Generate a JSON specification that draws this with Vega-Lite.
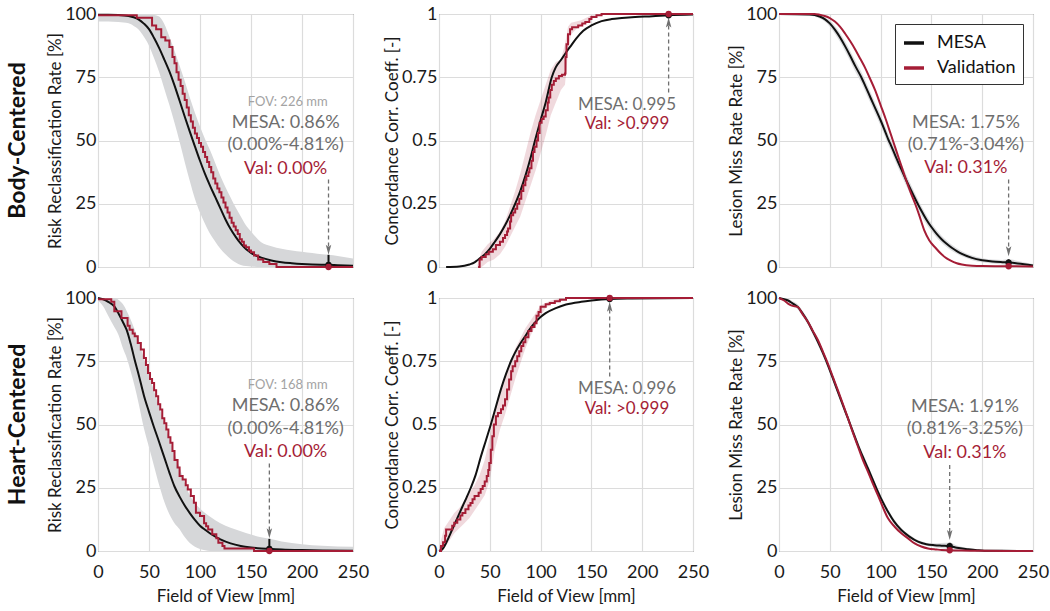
{
"$schema": "https://vega.github.io/schema/vega-lite/v6.json",
"padding": {"left": 6, "top": 4, "right": 0, "bottom": 2},
"background": "white",
"config": {
  "font": "Lato",
  "view": {"stroke": "#404040", "strokeWidth": 1},
  "axis": {"domain": false, "ticks": false, "grid": true, "gridColor": "#dcdcdc", "gridWidth": 1.2, "labelFontSize": 18, "labelColor": "#1a1a1a", "labelPadding": 2, "labelFlush": false, "titleFontSize": 17, "titleFontWeight": "normal", "titleColor": "#1a1a1a", "titlePadding": 0}
},
"datasets": {
  "rrB_mesa": [
    {"fov":0,"rate":99.7,"lo":97,"hi":99.8},{"fov":10,"rate":99.7,"lo":97,"hi":99.8},{"fov":20,"rate":99.6,"lo":96.8,"hi":99.8},{"fov":30,"rate":99.2,"lo":96.3,"hi":99.8},{"fov":35,"rate":98.7,"lo":95.3,"hi":99.8},{"fov":40,"rate":97.8,"lo":93.8,"hi":99.8},{"fov":45,"rate":96.2,"lo":91,"hi":99.8},{"fov":50,"rate":94,"lo":87.5,"hi":99.8},{"fov":55,"rate":90.5,"lo":82.5,"hi":99.6},{"fov":60,"rate":86.5,"lo":77,"hi":99},{"fov":65,"rate":82,"lo":70.5,"hi":96},{"fov":70,"rate":77.3,"lo":64,"hi":91},{"fov":75,"rate":71.8,"lo":57,"hi":85.5},{"fov":80,"rate":65.7,"lo":49.5,"hi":79.5},{"fov":85,"rate":59.5,"lo":41.5,"hi":73.5},{"fov":90,"rate":53.5,"lo":34,"hi":67},{"fov":95,"rate":47.7,"lo":27,"hi":61},{"fov":100,"rate":42,"lo":21.5,"hi":55.5},{"fov":105,"rate":36.7,"lo":17,"hi":50.5},{"fov":110,"rate":32,"lo":13,"hi":46},{"fov":115,"rate":27.6,"lo":10,"hi":41},{"fov":120,"rate":23.2,"lo":7.2,"hi":36},{"fov":125,"rate":18.8,"lo":5,"hi":31.5},{"fov":130,"rate":15,"lo":3.2,"hi":27.5},{"fov":135,"rate":11.9,"lo":1.8,"hi":23.5},{"fov":140,"rate":9.2,"lo":0.8,"hi":20},{"fov":145,"rate":7.1,"lo":0.4,"hi":16.5},{"fov":150,"rate":5.6,"lo":0.2,"hi":14},{"fov":160,"rate":3.7,"lo":0,"hi":9.8},{"fov":170,"rate":2.6,"lo":0,"hi":8.2},{"fov":180,"rate":1.9,"lo":0,"hi":7.2},{"fov":190,"rate":1.5,"lo":0,"hi":6.5},{"fov":200,"rate":1.2,"lo":0,"hi":6},{"fov":210,"rate":1,"lo":0,"hi":5.5},{"fov":220,"rate":0.9,"lo":0,"hi":5},{"fov":226,"rate":0.86,"lo":0,"hi":4.81},{"fov":235,"rate":0.7,"lo":0,"hi":4.3},{"fov":250,"rate":0.5,"lo":0,"hi":3.4}
  ],
  "rrB_val": [
    {"fov":0,"rate":99.5},{"fov":38,"rate":98.5},{"fov":53,"rate":95.5},{"fov":57,"rate":94},{"fov":62,"rate":90.8},{"fov":66,"rate":89.5},{"fov":70,"rate":87},{"fov":73,"rate":83},{"fov":75,"rate":80.5},{"fov":77,"rate":77},{"fov":79,"rate":74},{"fov":81,"rate":71.5},{"fov":83,"rate":68.5},{"fov":85,"rate":66},{"fov":87,"rate":63},{"fov":89,"rate":60},{"fov":91,"rate":57.5},{"fov":93,"rate":55},{"fov":95,"rate":52.8},{"fov":97,"rate":51},{"fov":99,"rate":49},{"fov":101,"rate":47.5},{"fov":103,"rate":45.5},{"fov":105,"rate":43.5},{"fov":107,"rate":41.5},{"fov":109,"rate":39.5},{"fov":111,"rate":37.5},{"fov":113,"rate":35},{"fov":115,"rate":33},{"fov":117,"rate":31},{"fov":119,"rate":29.5},{"fov":121,"rate":27.5},{"fov":123,"rate":25.5},{"fov":125,"rate":23.5},{"fov":127,"rate":21.5},{"fov":129,"rate":19.5},{"fov":131,"rate":17.5},{"fov":133,"rate":16},{"fov":135,"rate":14.5},{"fov":137,"rate":13},{"fov":139,"rate":11},{"fov":141,"rate":10},{"fov":143,"rate":8.5},{"fov":145,"rate":7.8},{"fov":148,"rate":6.5},{"fov":150,"rate":5.8},{"fov":153,"rate":4.5},{"fov":157,"rate":3},{"fov":162,"rate":2},{"fov":168,"rate":1.2},{"fov":175,"rate":0},{"fov":250,"rate":0}
  ],
  "cccB_mesa": [
    {"fov":7,"ccc":0},{"fov":20,"ccc":0.002},{"fov":30,"ccc":0.01},{"fov":35,"ccc":0.018},{"fov":38.5,"ccc":0.029},{"fov":45,"ccc":0.05},{"fov":50,"ccc":0.072},{"fov":55,"ccc":0.1},{"fov":60,"ccc":0.13},{"fov":65,"ccc":0.165},{"fov":70,"ccc":0.205},{"fov":75,"ccc":0.25},{"fov":80,"ccc":0.3},{"fov":85,"ccc":0.36},{"fov":90,"ccc":0.43},{"fov":94.5,"ccc":0.5},{"fov":100,"ccc":0.58},{"fov":105,"ccc":0.65},{"fov":111,"ccc":0.75},{"fov":115,"ccc":0.79},{"fov":120,"ccc":0.818},{"fov":125,"ccc":0.848},{"fov":129,"ccc":0.87},{"fov":135,"ccc":0.903},{"fov":142,"ccc":0.934},{"fov":150,"ccc":0.955},{"fov":160,"ccc":0.972},{"fov":170,"ccc":0.98},{"fov":180,"ccc":0.984},{"fov":193,"ccc":0.988},{"fov":210,"ccc":0.991},{"fov":226,"ccc":0.995},{"fov":250,"ccc":0.998}
  ],
  "cccB_val": [
    {"fov":38.5,"ccc":0},{"fov":40,"ccc":0.03},{"fov":42,"ccc":0.04},{"fov":46,"ccc":0.05},{"fov":49,"ccc":0.06},{"fov":53,"ccc":0.07},{"fov":56,"ccc":0.087},{"fov":60,"ccc":0.1},{"fov":63,"ccc":0.115},{"fov":65,"ccc":0.126},{"fov":67,"ccc":0.14},{"fov":68,"ccc":0.152},{"fov":70,"ccc":0.18},{"fov":71,"ccc":0.205},{"fov":73,"ccc":0.215},{"fov":75,"ccc":0.23},{"fov":77,"ccc":0.25},{"fov":79,"ccc":0.27},{"fov":81,"ccc":0.3},{"fov":83,"ccc":0.323},{"fov":85,"ccc":0.345},{"fov":86,"ccc":0.36},{"fov":88,"ccc":0.375},{"fov":89,"ccc":0.39},{"fov":91,"ccc":0.42},{"fov":92.5,"ccc":0.455},{"fov":94,"ccc":0.475},{"fov":96,"ccc":0.5},{"fov":97.5,"ccc":0.53},{"fov":99,"ccc":0.57},{"fov":101,"ccc":0.585},{"fov":103,"ccc":0.595},{"fov":105,"ccc":0.62},{"fov":107,"ccc":0.65},{"fov":108,"ccc":0.67},{"fov":109.5,"ccc":0.7},{"fov":111,"ccc":0.72},{"fov":113,"ccc":0.735},{"fov":115,"ccc":0.745},{"fov":118,"ccc":0.755},{"fov":121,"ccc":0.76},{"fov":124,"ccc":0.765},{"fov":124.5,"ccc":0.83},{"fov":125.5,"ccc":0.88},{"fov":127,"ccc":0.92},{"fov":129,"ccc":0.94},{"fov":131,"ccc":0.948},{"fov":137,"ccc":0.955},{"fov":141,"ccc":0.962},{"fov":144,"ccc":0.968},{"fov":148,"ccc":0.98},{"fov":150,"ccc":0.988},{"fov":155,"ccc":0.995},{"fov":160,"ccc":1},{"fov":250,"ccc":1}
  ],
  "cccB_band": [
    {"fov":38,"lo":0,"hi":0.01},{"fov":42,"lo":0,"hi":0.06},{"fov":48,"lo":0.02,"hi":0.09},{"fov":54,"lo":0.03,"hi":0.11},{"fov":60,"lo":0.05,"hi":0.14},{"fov":65,"lo":0.08,"hi":0.18},{"fov":70,"lo":0.12,"hi":0.24},{"fov":75,"lo":0.16,"hi":0.3},{"fov":80,"lo":0.2,"hi":0.37},{"fov":85,"lo":0.26,"hi":0.45},{"fov":90,"lo":0.32,"hi":0.53},{"fov":95,"lo":0.38,"hi":0.6},{"fov":100,"lo":0.45,"hi":0.66},{"fov":105,"lo":0.52,"hi":0.72},{"fov":110,"lo":0.6,"hi":0.78},{"fov":115,"lo":0.65,"hi":0.81},{"fov":120,"lo":0.7,"hi":0.82},{"fov":124,"lo":0.72,"hi":0.88},{"fov":127,"lo":0.85,"hi":0.95},{"fov":130,"lo":0.92,"hi":0.965},{"fov":135,"lo":0.94,"hi":0.97},{"fov":140,"lo":0.955,"hi":0.975},{"fov":150,"lo":0.98,"hi":0.995},{"fov":160,"lo":1,"hi":1}
  ],
  "lmB_mesa": [
    {"fov":0,"rate":100,"lo":99.6,"hi":100},{"fov":30,"rate":99.8,"lo":99.3,"hi":100},{"fov":40,"rate":99,"lo":98.2,"hi":99.6},{"fov":45,"rate":98,"lo":97,"hi":98.8},{"fov":50,"rate":96.3,"lo":95,"hi":97.5},{"fov":55,"rate":93.8,"lo":92.2,"hi":95.3},{"fov":60,"rate":90.8,"lo":89,"hi":92.5},{"fov":65,"rate":87.3,"lo":85.3,"hi":89.2},{"fov":70,"rate":83.5,"lo":81.4,"hi":85.5},{"fov":75,"rate":79.5,"lo":77.3,"hi":81.6},{"fov":81,"rate":75,"lo":72.8,"hi":77.2},{"fov":85,"rate":71.5,"lo":69.3,"hi":73.7},{"fov":90,"rate":67,"lo":64.8,"hi":69.2},{"fov":95,"rate":62.5,"lo":60.3,"hi":64.7},{"fov":100,"rate":58,"lo":55.8,"hi":60.2},{"fov":105,"rate":53,"lo":50.8,"hi":55.2},{"fov":108,"rate":50,"lo":47.8,"hi":52.2},{"fov":110,"rate":48.3,"lo":46.1,"hi":50.5},{"fov":115,"rate":43.5,"lo":41.3,"hi":45.7},{"fov":120,"rate":39,"lo":36.8,"hi":41.2},{"fov":125,"rate":34.5,"lo":32.3,"hi":36.7},{"fov":130,"rate":30.3,"lo":28.2,"hi":32.4},{"fov":136.5,"rate":25,"lo":23,"hi":27},{"fov":140,"rate":22.3,"lo":20.4,"hi":24.2},{"fov":145,"rate":18.8,"lo":17,"hi":20.6},{"fov":150,"rate":15.8,"lo":14.2,"hi":17.4},{"fov":155,"rate":13.2,"lo":11.7,"hi":14.7},{"fov":160,"rate":11,"lo":9.6,"hi":12.4},{"fov":165,"rate":9.2,"lo":7.9,"hi":10.5},{"fov":170,"rate":7.6,"lo":6.4,"hi":8.8},{"fov":175,"rate":6.3,"lo":5.2,"hi":7.4},{"fov":180,"rate":5.2,"lo":4.2,"hi":6.2},{"fov":190,"rate":3.6,"lo":2.7,"hi":4.5},{"fov":200,"rate":2.7,"lo":1.9,"hi":3.5},{"fov":210,"rate":2.2,"lo":1.4,"hi":3},{"fov":220,"rate":1.9,"lo":1,"hi":2.8},{"fov":226,"rate":1.75,"lo":0.71,"hi":3.04},{"fov":235,"rate":1.4,"lo":0.6,"hi":2.4},{"fov":250,"rate":0.6,"lo":0.2,"hi":1.2}
  ],
  "lmB_val": [
    {"fov":0,"rate":100},{"fov":35,"rate":100},{"fov":40,"rate":99.7},{"fov":45,"rate":99.2},{"fov":50,"rate":98.4},{"fov":55,"rate":97},{"fov":60,"rate":95},{"fov":65,"rate":92.3},{"fov":70,"rate":89.3},{"fov":75,"rate":86},{"fov":80,"rate":82.3},{"fov":85,"rate":78.5},{"fov":89,"rate":75},{"fov":95,"rate":69.5},{"fov":100,"rate":64},{"fov":105,"rate":58.5},{"fov":110,"rate":52.5},{"fov":115,"rate":46.5},{"fov":120,"rate":40.5},{"fov":125,"rate":34.5},{"fov":130,"rate":29},{"fov":134,"rate":25},{"fov":138,"rate":20.5},{"fov":143,"rate":14.5},{"fov":148,"rate":10.5},{"fov":154,"rate":7.6},{"fov":160,"rate":5},{"fov":165,"rate":3.4},{"fov":169,"rate":2.5},{"fov":175,"rate":1.5},{"fov":180,"rate":1},{"fov":190,"rate":0.5},{"fov":200,"rate":0.35},{"fov":226,"rate":0.31},{"fov":250,"rate":0.2}
  ],
  "rrH_mesa": [
    {"fov":0,"rate":100,"lo":99,"hi":100},{"fov":5,"rate":99.5,"lo":96.7,"hi":100},{"fov":10,"rate":98.5,"lo":93,"hi":100},{"fov":16,"rate":96.7,"lo":88.5,"hi":100},{"fov":20,"rate":94,"lo":85.5,"hi":99.3},{"fov":25,"rate":90,"lo":79.5,"hi":97.2},{"fov":28,"rate":87.5,"lo":76.5,"hi":95},{"fov":32,"rate":82,"lo":71,"hi":91.5},{"fov":36,"rate":75.5,"lo":65,"hi":87.5},{"fov":40,"rate":69.5,"lo":58,"hi":83},{"fov":45,"rate":61.5,"lo":48.5,"hi":76},{"fov":50,"rate":55,"lo":41,"hi":70},{"fov":54,"rate":50,"lo":35,"hi":64.5},{"fov":60,"rate":43,"lo":26,"hi":57},{"fov":65,"rate":37,"lo":19.5,"hi":50.5},{"fov":70,"rate":31,"lo":14.5,"hi":44.5},{"fov":75,"rate":25.5,"lo":11,"hi":38.5},{"fov":80,"rate":21.5,"lo":8.6,"hi":33},{"fov":85,"rate":18,"lo":5.5,"hi":27},{"fov":90,"rate":15,"lo":3.2,"hi":22},{"fov":95,"rate":12.3,"lo":1.7,"hi":19},{"fov":100,"rate":10,"lo":0.8,"hi":16.8},{"fov":105,"rate":8.4,"lo":0.3,"hi":15},{"fov":110,"rate":6.9,"lo":0,"hi":13.5},{"fov":120,"rate":4.6,"lo":0,"hi":11},{"fov":130,"rate":3,"lo":0,"hi":9.2},{"fov":140,"rate":2,"lo":0,"hi":7.8},{"fov":150,"rate":1.4,"lo":0,"hi":6.5},{"fov":160,"rate":1,"lo":0,"hi":5.4},{"fov":168,"rate":0.86,"lo":0,"hi":4.81},{"fov":180,"rate":0.6,"lo":0,"hi":3.8},{"fov":200,"rate":0.35,"lo":0,"hi":2.7},{"fov":220,"rate":0.2,"lo":0,"hi":2.1},{"fov":250,"rate":0.1,"lo":0,"hi":1.7}
  ],
  "rrH_val": [
    {"fov":0,"rate":99.5},{"fov":13,"rate":98.5},{"fov":16,"rate":94.8},{"fov":23,"rate":92.1},{"fov":29,"rate":89},{"fov":31,"rate":87.5},{"fov":34,"rate":86},{"fov":36,"rate":84.9},{"fov":39,"rate":82.2},{"fov":42,"rate":79.6},{"fov":45,"rate":76.3},{"fov":47,"rate":73.5},{"fov":49,"rate":70.4},{"fov":51,"rate":68},{"fov":53,"rate":66.4},{"fov":55,"rate":63.5},{"fov":57,"rate":61.2},{"fov":59,"rate":58},{"fov":61,"rate":55.9},{"fov":63,"rate":52.5},{"fov":65,"rate":50.5},{"fov":67,"rate":48},{"fov":69,"rate":45},{"fov":71,"rate":42.8},{"fov":73,"rate":39.5},{"fov":75,"rate":36},{"fov":78,"rate":33},{"fov":80,"rate":29.6},{"fov":83,"rate":28.3},{"fov":86,"rate":26},{"fov":88,"rate":24.3},{"fov":91,"rate":21.7},{"fov":94,"rate":19.1},{"fov":96,"rate":15.1},{"fov":100,"rate":13.8},{"fov":104,"rate":11},{"fov":106,"rate":9.8},{"fov":108,"rate":8.5},{"fov":112,"rate":6.6},{"fov":116,"rate":5},{"fov":118,"rate":3.3},{"fov":122,"rate":2},{"fov":124,"rate":1},{"fov":153,"rate":0},{"fov":250,"rate":0}
  ],
  "cccH_mesa": [
    {"fov":0,"ccc":0},{"fov":3.3,"ccc":0.007},{"fov":8,"ccc":0.04},{"fov":13,"ccc":0.085},{"fov":18,"ccc":0.13},{"fov":23,"ccc":0.175},{"fov":27,"ccc":0.21},{"fov":31.3,"ccc":0.25},{"fov":36,"ccc":0.3},{"fov":41,"ccc":0.37},{"fov":46,"ccc":0.435},{"fov":51,"ccc":0.5},{"fov":56,"ccc":0.57},{"fov":61,"ccc":0.64},{"fov":66,"ccc":0.7},{"fov":70.8,"ccc":0.75},{"fov":75,"ccc":0.785},{"fov":80,"ccc":0.82},{"fov":85,"ccc":0.85},{"fov":89,"ccc":0.875},{"fov":95,"ccc":0.905},{"fov":100,"ccc":0.925},{"fov":105,"ccc":0.94},{"fov":115,"ccc":0.96},{"fov":125,"ccc":0.974},{"fov":140,"ccc":0.985},{"fov":150,"ccc":0.99},{"fov":168,"ccc":0.996},{"fov":190,"ccc":0.998},{"fov":250,"ccc":1}
  ],
  "cccH_val": [
    {"fov":0,"ccc":0},{"fov":2,"ccc":0.02},{"fov":4,"ccc":0.035},{"fov":6,"ccc":0.06},{"fov":7,"ccc":0.085},{"fov":11,"ccc":0.085},{"fov":13,"ccc":0.1},{"fov":15,"ccc":0.112},{"fov":18,"ccc":0.125},{"fov":21,"ccc":0.14},{"fov":23,"ccc":0.15},{"fov":26,"ccc":0.165},{"fov":29,"ccc":0.18},{"fov":31,"ccc":0.19},{"fov":33,"ccc":0.205},{"fov":35,"ccc":0.217},{"fov":39,"ccc":0.23},{"fov":41,"ccc":0.245},{"fov":43,"ccc":0.257},{"fov":45,"ccc":0.275},{"fov":47,"ccc":0.296},{"fov":48.5,"ccc":0.32},{"fov":49.5,"ccc":0.348},{"fov":51,"ccc":0.4},{"fov":52.5,"ccc":0.454},{"fov":54,"ccc":0.5},{"fov":56,"ccc":0.533},{"fov":58,"ccc":0.545},{"fov":61,"ccc":0.56},{"fov":63,"ccc":0.575},{"fov":65,"ccc":0.6},{"fov":67,"ccc":0.638},{"fov":69,"ccc":0.678},{"fov":71,"ccc":0.71},{"fov":72.5,"ccc":0.73},{"fov":75,"ccc":0.75},{"fov":77,"ccc":0.77},{"fov":79,"ccc":0.79},{"fov":81,"ccc":0.81},{"fov":83,"ccc":0.825},{"fov":85,"ccc":0.845},{"fov":88,"ccc":0.87},{"fov":91,"ccc":0.885},{"fov":94,"ccc":0.9},{"fov":96,"ccc":0.93},{"fov":98,"ccc":0.945},{"fov":100,"ccc":0.965},{"fov":105,"ccc":0.975},{"fov":109,"ccc":0.98},{"fov":114,"ccc":0.987},{"fov":119,"ccc":0.993},{"fov":125,"ccc":1},{"fov":250,"ccc":1}
  ],
  "cccH_band": [
    {"fov":0,"lo":0,"hi":0.01},{"fov":5,"lo":0.01,"hi":0.09},{"fov":10,"lo":0.04,"hi":0.12},{"fov":15,"lo":0.07,"hi":0.15},{"fov":20,"lo":0.09,"hi":0.17},{"fov":25,"lo":0.11,"hi":0.2},{"fov":30,"lo":0.13,"hi":0.23},{"fov":35,"lo":0.16,"hi":0.26},{"fov":40,"lo":0.19,"hi":0.3},{"fov":45,"lo":0.22,"hi":0.36},{"fov":50,"lo":0.28,"hi":0.45},{"fov":55,"lo":0.4,"hi":0.56},{"fov":60,"lo":0.48,"hi":0.62},{"fov":65,"lo":0.54,"hi":0.68},{"fov":70,"lo":0.61,"hi":0.75},{"fov":75,"lo":0.68,"hi":0.8},{"fov":80,"lo":0.74,"hi":0.84},{"fov":85,"lo":0.8,"hi":0.88},{"fov":90,"lo":0.85,"hi":0.91},{"fov":95,"lo":0.89,"hi":0.94},{"fov":100,"lo":0.93,"hi":0.97},{"fov":105,"lo":0.96,"hi":0.98},{"fov":110,"lo":0.975,"hi":0.99},{"fov":120,"lo":0.99,"hi":1},{"fov":125,"lo":1,"hi":1}
  ],
  "lmH_mesa": [
    {"fov":0,"rate":100,"lo":99.6,"hi":100},{"fov":5,"rate":99.5,"lo":99,"hi":100},{"fov":8.9,"rate":99,"lo":98.3,"hi":99.7},{"fov":13,"rate":98,"lo":97.2,"hi":98.8},{"fov":18.7,"rate":96.4,"lo":95.4,"hi":97.4},{"fov":23,"rate":94,"lo":92.9,"hi":95.1},{"fov":28.5,"rate":90.5,"lo":89.3,"hi":91.7},{"fov":33,"rate":87,"lo":85.8,"hi":88.2},{"fov":38.4,"rate":82.6,"lo":81.3,"hi":83.9},{"fov":43,"rate":78.5,"lo":77.2,"hi":79.8},{"fov":48.2,"rate":73.4,"lo":72.1,"hi":74.7},{"fov":53,"rate":68.3,"lo":67,"hi":69.6},{"fov":58,"rate":62.9,"lo":61.6,"hi":64.2},{"fov":63,"rate":57.5,"lo":56.2,"hi":58.8},{"fov":67.9,"rate":52.4,"lo":51.1,"hi":53.7},{"fov":73,"rate":46.9,"lo":45.6,"hi":48.2},{"fov":77.8,"rate":41.8,"lo":40.5,"hi":43.1},{"fov":83,"rate":36.8,"lo":35.5,"hi":38.1},{"fov":87.6,"rate":32.6,"lo":31.3,"hi":33.9},{"fov":93,"rate":27.5,"lo":26.3,"hi":28.7},{"fov":97.4,"rate":23.4,"lo":22.2,"hi":24.6},{"fov":102,"rate":19.5,"lo":18.4,"hi":20.6},{"fov":107.3,"rate":15.5,"lo":14.5,"hi":16.5},{"fov":113,"rate":11.8,"lo":10.9,"hi":12.7},{"fov":120.4,"rate":8.3,"lo":7.5,"hi":9.1},{"fov":128,"rate":5.8,"lo":5.1,"hi":6.5},{"fov":136.8,"rate":3.7,"lo":3.1,"hi":4.3},{"fov":145,"rate":2.7,"lo":2.1,"hi":3.3},{"fov":153,"rate":2.3,"lo":1.5,"hi":3.1},{"fov":160,"rate":2.1,"lo":1.1,"hi":3.2},{"fov":168,"rate":1.91,"lo":0.81,"hi":3.25},{"fov":175,"rate":1.3,"lo":0.6,"hi":2.2},{"fov":186,"rate":0.7,"lo":0.3,"hi":1.2},{"fov":195,"rate":0.3,"lo":0.1,"hi":0.6},{"fov":202,"rate":0.1,"lo":0,"hi":0.3},{"fov":220,"rate":0.05,"lo":0,"hi":0.15},{"fov":250,"rate":0,"lo":0,"hi":0.1}
  ],
  "lmH_val": [
    {"fov":0,"rate":100},{"fov":5,"rate":99},{"fov":8.9,"rate":97.8},{"fov":12,"rate":97.1},{"fov":18.7,"rate":96.4},{"fov":23,"rate":93.8},{"fov":28.5,"rate":90.5},{"fov":33,"rate":87.2},{"fov":38.4,"rate":83.3},{"fov":43,"rate":79},{"fov":48.2,"rate":74},{"fov":53,"rate":68.8},{"fov":58,"rate":63.5},{"fov":63,"rate":58},{"fov":67.9,"rate":52.4},{"fov":73,"rate":46.5},{"fov":77.8,"rate":41.2},{"fov":83,"rate":35.5},{"fov":87.6,"rate":31.3},{"fov":93,"rate":26},{"fov":97.4,"rate":22},{"fov":102,"rate":17.5},{"fov":107.3,"rate":12.9},{"fov":113.8,"rate":9.6},{"fov":120.4,"rate":7},{"fov":127,"rate":5},{"fov":133.5,"rate":3},{"fov":140,"rate":1.8},{"fov":146.7,"rate":1},{"fov":155,"rate":0.6},{"fov":160,"rate":0.4},{"fov":168,"rate":0.31},{"fov":180,"rate":0.15},{"fov":200,"rate":0.05},{"fov":250,"rate":0}
  ]
},
"columns": 3,
"spacing": {"row": 31, "column": 86},
"bounds": "flush",
"resolve": {"scale": {"color": "independent"}},
"concat": [
  {
    "width": 255, "height": 253,
    "title": {"text": "Body-Centered", "orient": "left", "anchor": "middle", "frame": "group", "fontSize": 23, "fontWeight": "bold", "color": "#111111", "offset": 17},
    "layer": [
      {"data": {"name": "rrB_mesa"}, "mark": {"type": "area", "color": "#d6d7d9", "interpolate": "monotone"}, "encoding": {
        "x": {"field": "fov", "type": "quantitative", "scale": {"domain": [0, 250], "nice": false}, "axis": {"values": [0, 50, 100, 150, 200, 250], "labels": false, "title": null}},
        "y": {"field": "lo", "type": "quantitative", "scale": {"domain": [0, 100], "nice": false}, "axis": {"values": [0, 25, 50, 75, 100], "title": "Risk Reclassification Rate [%]"}},
        "y2": {"field": "hi"}}},
      {"data": {"name": "rrB_mesa"}, "mark": {"type": "line", "color": "#111111", "strokeWidth": 2, "interpolate": "monotone"}, "encoding": {
        "x": {"field": "fov", "type": "quantitative", "axis": {"title": null}},
        "y": {"field": "rate", "type": "quantitative", "axis": {"title": "Risk Reclassification Rate [%]"}}}},
      {"data": {"name": "rrB_val"}, "mark": {"type": "line", "color": "#a51d36", "strokeWidth": 2, "interpolate": "step-after"}, "encoding": {
        "x": {"field": "fov", "type": "quantitative", "axis": {"title": null}},
        "y": {"field": "rate", "type": "quantitative", "axis": {"title": "Risk Reclassification Rate [%]"}}}},
      {"data": {"values": [{}]}, "mark": {"type": "text", "text": "FOV: 226 mm", "fontSize": 13, "color": "#a3a3a3"}, "encoding": {"x": {"datum": 186}, "y": {"datum": 65.2}}},
      {"data": {"values": [{}]}, "mark": {"type": "text", "text": "MESA: 0.86%", "fontSize": 18, "color": "#6e6e6e"}, "encoding": {"x": {"datum": 184}, "y": {"datum": 56.8}}},
      {"data": {"values": [{}]}, "mark": {"type": "text", "text": "(0.00%-4.81%)", "fontSize": 18, "color": "#6e6e6e"}, "encoding": {"x": {"datum": 184}, "y": {"datum": 48.2}}},
      {"data": {"values": [{}]}, "mark": {"type": "text", "text": "Val: 0.00%", "fontSize": 18, "color": "#a51d36"}, "encoding": {"x": {"datum": 184}, "y": {"datum": 38.6}}},
      {"data": {"values": [{}]}, "mark": {"type": "rule", "color": "#707070", "strokeWidth": 1.3, "strokeDash": [4, 3]}, "encoding": {"x": {"datum": 226}, "y": {"datum": 34.6}, "y2": {"datum": 7.5}}},
      {"data": {"values": [{}]}, "mark": {"type": "point", "shape": "M0,1L-0.55,-1L0,-0.55L0.55,-1Z", "filled": true, "color": "#707070", "opacity": 1, "size": 100}, "encoding": {"x": {"datum": 226}, "y": {"datum": 6.85}}},
      {"data": {"values": [{}]}, "mark": {"type": "rule", "color": "#111111", "strokeWidth": 2}, "encoding": {"x": {"datum": 226}, "y": {"datum": 0}, "y2": {"datum": 4.81}}},
      {"data": {"values": [{}]}, "mark": {"type": "point", "filled": true, "color": "#111111", "opacity": 1, "size": 40}, "encoding": {"x": {"datum": 226}, "y": {"datum": 0.86}}},
      {"data": {"values": [{}]}, "mark": {"type": "point", "filled": true, "color": "#a51d36", "opacity": 1, "size": 40}, "encoding": {"x": {"datum": 226}, "y": {"datum": 0}}}
    ]
  },
  {
    "width": 254, "height": 253,
    "layer": [
      {"data": {"name": "cccB_band"}, "mark": {"type": "area", "color": "#a51d36", "opacity": 0.17}, "encoding": {
        "x": {"field": "fov", "type": "quantitative", "scale": {"domain": [0, 250], "nice": false}, "axis": {"values": [0, 50, 100, 150, 200, 250], "labels": false, "title": null}},
        "y": {"field": "lo", "type": "quantitative", "scale": {"domain": [0, 1], "nice": false}, "axis": {"values": [0, 0.25, 0.5, 0.75, 1], "labelExpr": "'' + datum.value", "title": "Concordance Corr. Coeff. [-]"}},
        "y2": {"field": "hi"}}},
      {"data": {"name": "cccB_mesa"}, "mark": {"type": "line", "color": "#111111", "strokeWidth": 2, "interpolate": "monotone"}, "encoding": {
        "x": {"field": "fov", "type": "quantitative", "axis": {"title": null}},
        "y": {"field": "ccc", "type": "quantitative", "axis": {"title": "Concordance Corr. Coeff. [-]"}}}},
      {"data": {"name": "cccB_val"}, "mark": {"type": "line", "color": "#a51d36", "strokeWidth": 2, "interpolate": "step-after"}, "encoding": {
        "x": {"field": "fov", "type": "quantitative", "axis": {"title": null}},
        "y": {"field": "ccc", "type": "quantitative", "axis": {"title": "Concordance Corr. Coeff. [-]"}}}},
      {"data": {"values": [{}]}, "mark": {"type": "text", "text": "MESA: 0.995", "fontSize": 17, "color": "#6e6e6e"}, "encoding": {"x": {"datum": 185}, "y": {"datum": 0.64}}},
      {"data": {"values": [{}]}, "mark": {"type": "text", "text": "Val: >0.999", "fontSize": 17, "color": "#a51d36"}, "encoding": {"x": {"datum": 185}, "y": {"datum": 0.564}}},
      {"data": {"values": [{}]}, "mark": {"type": "rule", "color": "#707070", "strokeWidth": 1.3, "strokeDash": [4, 3]}, "encoding": {"x": {"datum": 226}, "y": {"datum": 0.69}, "y2": {"datum": 0.955}}},
      {"data": {"values": [{}]}, "mark": {"type": "point", "shape": "M0,-1L-0.55,1L0,0.55L0.55,1Z", "filled": true, "color": "#707070", "opacity": 1, "size": 100}, "encoding": {"x": {"datum": 226}, "y": {"datum": 0.966}}},
      {"data": {"values": [{}]}, "mark": {"type": "point", "filled": true, "color": "#111111", "opacity": 1, "size": 40}, "encoding": {"x": {"datum": 226}, "y": {"datum": 0.995}}},
      {"data": {"values": [{}]}, "mark": {"type": "point", "filled": true, "color": "#a51d36", "opacity": 1, "size": 40}, "encoding": {"x": {"datum": 226}, "y": {"datum": 1}}}
    ]
  },
  {
    "width": 254, "height": 253,
    "layer": [
      {"data": {"name": "lmB_mesa"}, "mark": {"type": "area", "color": "#d6d7d9", "opacity": 0.85, "interpolate": "monotone"}, "encoding": {
        "x": {"field": "fov", "type": "quantitative", "scale": {"domain": [0, 250], "nice": false}, "axis": {"values": [0, 50, 100, 150, 200, 250], "labels": false, "title": null}},
        "y": {"field": "lo", "type": "quantitative", "scale": {"domain": [0, 100], "nice": false}, "axis": {"values": [0, 25, 50, 75, 100], "title": "Lesion Miss Rate Rate [%]"}},
        "y2": {"field": "hi"}}},
      {"data": {"name": "lmB_mesa"}, "mark": {"type": "line", "strokeWidth": 2, "interpolate": "monotone"}, "encoding": {
        "x": {"field": "fov", "type": "quantitative", "axis": {"title": null}},
        "y": {"field": "rate", "type": "quantitative", "axis": {"title": "Lesion Miss Rate Rate [%]"}},
        "color": {"datum": "MESA", "type": "nominal", "scale": {"domain": ["MESA", "Validation"], "range": ["#111111", "#a51d36"]}, "legend": {"title": null, "orient": "top-right", "offset": 10, "padding": 7, "strokeColor": "#333333", "fillColor": "#ffffff", "labelFontSize": 18, "labelColor": "#111111", "labelOffset": 11, "symbolType": "stroke", "symbolStrokeWidth": 3.5, "symbolSize": 400, "rowPadding": 4}}}},
      {"data": {"name": "lmB_val"}, "mark": {"type": "line", "strokeWidth": 2, "interpolate": "monotone"}, "encoding": {
        "x": {"field": "fov", "type": "quantitative", "axis": {"title": null}},
        "y": {"field": "rate", "type": "quantitative", "axis": {"title": "Lesion Miss Rate Rate [%]"}},
        "color": {"datum": "Validation", "type": "nominal"}}},
      {"data": {"values": [{}]}, "mark": {"type": "text", "text": "MESA: 1.75%", "fontSize": 18, "color": "#6e6e6e"}, "encoding": {"x": {"datum": 184}, "y": {"datum": 57}}},
      {"data": {"values": [{}]}, "mark": {"type": "text", "text": "(0.71%-3.04%)", "fontSize": 18, "color": "#6e6e6e"}, "encoding": {"x": {"datum": 184}, "y": {"datum": 48.4}}},
      {"data": {"values": [{}]}, "mark": {"type": "text", "text": "Val: 0.31%", "fontSize": 18, "color": "#a51d36"}, "encoding": {"x": {"datum": 184}, "y": {"datum": 39.2}}},
      {"data": {"values": [{}]}, "mark": {"type": "rule", "color": "#707070", "strokeWidth": 1.3, "strokeDash": [4, 3]}, "encoding": {"x": {"datum": 226}, "y": {"datum": 34.6}, "y2": {"datum": 7}}},
      {"data": {"values": [{}]}, "mark": {"type": "point", "shape": "M0,1L-0.55,-1L0,-0.55L0.55,-1Z", "filled": true, "color": "#707070", "opacity": 1, "size": 100}, "encoding": {"x": {"datum": 226}, "y": {"datum": 6.2}}},
      {"data": {"values": [{}]}, "mark": {"type": "rule", "color": "#111111", "strokeWidth": 2}, "encoding": {"x": {"datum": 226}, "y": {"datum": 0.71}, "y2": {"datum": 3.04}}},
      {"data": {"values": [{}]}, "mark": {"type": "point", "filled": true, "color": "#111111", "opacity": 1, "size": 40}, "encoding": {"x": {"datum": 226}, "y": {"datum": 1.75}}},
      {"data": {"values": [{}]}, "mark": {"type": "point", "filled": true, "color": "#a51d36", "opacity": 1, "size": 40}, "encoding": {"x": {"datum": 226}, "y": {"datum": 0.31}}}
    ]
  },
  {
    "width": 255, "height": 253,
    "title": {"text": "Heart-Centered", "orient": "left", "anchor": "middle", "frame": "group", "fontSize": 23, "fontWeight": "bold", "color": "#111111", "offset": 17},
    "layer": [
      {"data": {"name": "rrH_mesa"}, "mark": {"type": "area", "color": "#d6d7d9", "interpolate": "monotone"}, "encoding": {
        "x": {"field": "fov", "type": "quantitative", "scale": {"domain": [0, 250], "nice": false}, "axis": {"values": [0, 50, 100, 150, 200, 250], "title": "Field of View [mm]", "labelPadding": 12, "titlePadding": 7}},
        "y": {"field": "lo", "type": "quantitative", "scale": {"domain": [0, 100], "nice": false}, "axis": {"values": [0, 25, 50, 75, 100], "title": "Risk Reclassification Rate [%]"}},
        "y2": {"field": "hi"}}},
      {"data": {"name": "rrH_mesa"}, "mark": {"type": "line", "color": "#111111", "strokeWidth": 2, "interpolate": "monotone"}, "encoding": {
        "x": {"field": "fov", "type": "quantitative", "axis": {"title": "Field of View [mm]"}},
        "y": {"field": "rate", "type": "quantitative", "axis": {"title": "Risk Reclassification Rate [%]"}}}},
      {"data": {"name": "rrH_val"}, "mark": {"type": "line", "color": "#a51d36", "strokeWidth": 2, "interpolate": "step-after"}, "encoding": {
        "x": {"field": "fov", "type": "quantitative", "axis": {"title": "Field of View [mm]"}},
        "y": {"field": "rate", "type": "quantitative", "axis": {"title": "Risk Reclassification Rate [%]"}}}},
      {"data": {"values": [{}]}, "mark": {"type": "text", "text": "FOV: 168 mm", "fontSize": 13, "color": "#a3a3a3"}, "encoding": {"x": {"datum": 186}, "y": {"datum": 65.5}}},
      {"data": {"values": [{}]}, "mark": {"type": "text", "text": "MESA: 0.86%", "fontSize": 18, "color": "#6e6e6e"}, "encoding": {"x": {"datum": 184}, "y": {"datum": 57.4}}},
      {"data": {"values": [{}]}, "mark": {"type": "text", "text": "(0.00%-4.81%)", "fontSize": 18, "color": "#6e6e6e"}, "encoding": {"x": {"datum": 184}, "y": {"datum": 48.4}}},
      {"data": {"values": [{}]}, "mark": {"type": "text", "text": "Val: 0.00%", "fontSize": 18, "color": "#a51d36"}, "encoding": {"x": {"datum": 184}, "y": {"datum": 39.2}}},
      {"data": {"values": [{}]}, "mark": {"type": "rule", "color": "#707070", "strokeWidth": 1.3, "strokeDash": [4, 3]}, "encoding": {"x": {"datum": 168}, "y": {"datum": 34.6}, "y2": {"datum": 8}}},
      {"data": {"values": [{}]}, "mark": {"type": "point", "shape": "M0,1L-0.55,-1L0,-0.55L0.55,-1Z", "filled": true, "color": "#707070", "opacity": 1, "size": 100}, "encoding": {"x": {"datum": 168}, "y": {"datum": 7.0}}},
      {"data": {"values": [{}]}, "mark": {"type": "rule", "color": "#111111", "strokeWidth": 2}, "encoding": {"x": {"datum": 168}, "y": {"datum": 0}, "y2": {"datum": 4.81}}},
      {"data": {"values": [{}]}, "mark": {"type": "point", "filled": true, "color": "#111111", "opacity": 1, "size": 40}, "encoding": {"x": {"datum": 168}, "y": {"datum": 0.86}}},
      {"data": {"values": [{}]}, "mark": {"type": "point", "filled": true, "color": "#a51d36", "opacity": 1, "size": 40}, "encoding": {"x": {"datum": 168}, "y": {"datum": 0}}}
    ]
  },
  {
    "width": 254, "height": 253,
    "layer": [
      {"data": {"name": "cccH_band"}, "mark": {"type": "area", "color": "#a51d36", "opacity": 0.17}, "encoding": {
        "x": {"field": "fov", "type": "quantitative", "scale": {"domain": [0, 250], "nice": false}, "axis": {"values": [0, 50, 100, 150, 200, 250], "title": "Field of View [mm]", "labelPadding": 12, "titlePadding": 7}},
        "y": {"field": "lo", "type": "quantitative", "scale": {"domain": [0, 1], "nice": false}, "axis": {"values": [0, 0.25, 0.5, 0.75, 1], "labelExpr": "'' + datum.value", "title": "Concordance Corr. Coeff. [-]"}},
        "y2": {"field": "hi"}}},
      {"data": {"name": "cccH_mesa"}, "mark": {"type": "line", "color": "#111111", "strokeWidth": 2, "interpolate": "monotone"}, "encoding": {
        "x": {"field": "fov", "type": "quantitative", "axis": {"title": "Field of View [mm]"}},
        "y": {"field": "ccc", "type": "quantitative", "axis": {"title": "Concordance Corr. Coeff. [-]"}}}},
      {"data": {"name": "cccH_val"}, "mark": {"type": "line", "color": "#a51d36", "strokeWidth": 2, "interpolate": "step-after"}, "encoding": {
        "x": {"field": "fov", "type": "quantitative", "axis": {"title": "Field of View [mm]"}},
        "y": {"field": "ccc", "type": "quantitative", "axis": {"title": "Concordance Corr. Coeff. [-]"}}}},
      {"data": {"values": [{}]}, "mark": {"type": "text", "text": "MESA: 0.996", "fontSize": 17, "color": "#6e6e6e"}, "encoding": {"x": {"datum": 185}, "y": {"datum": 0.64}}},
      {"data": {"values": [{}]}, "mark": {"type": "text", "text": "Val: >0.999", "fontSize": 17, "color": "#a51d36"}, "encoding": {"x": {"datum": 185}, "y": {"datum": 0.562}}},
      {"data": {"values": [{}]}, "mark": {"type": "rule", "color": "#707070", "strokeWidth": 1.3, "strokeDash": [4, 3]}, "encoding": {"x": {"datum": 168}, "y": {"datum": 0.69}, "y2": {"datum": 0.955}}},
      {"data": {"values": [{}]}, "mark": {"type": "point", "shape": "M0,-1L-0.55,1L0,0.55L0.55,1Z", "filled": true, "color": "#707070", "opacity": 1, "size": 100}, "encoding": {"x": {"datum": 168}, "y": {"datum": 0.965}}},
      {"data": {"values": [{}]}, "mark": {"type": "point", "filled": true, "color": "#111111", "opacity": 1, "size": 40}, "encoding": {"x": {"datum": 168}, "y": {"datum": 0.996}}},
      {"data": {"values": [{}]}, "mark": {"type": "point", "filled": true, "color": "#a51d36", "opacity": 1, "size": 40}, "encoding": {"x": {"datum": 168}, "y": {"datum": 1}}}
    ]
  },
  {
    "width": 254, "height": 253,
    "layer": [
      {"data": {"name": "lmH_mesa"}, "mark": {"type": "area", "color": "#d6d7d9", "opacity": 0.85, "interpolate": "monotone"}, "encoding": {
        "x": {"field": "fov", "type": "quantitative", "scale": {"domain": [0, 250], "nice": false}, "axis": {"values": [0, 50, 100, 150, 200, 250], "title": "Field of View [mm]", "labelPadding": 12, "titlePadding": 7}},
        "y": {"field": "lo", "type": "quantitative", "scale": {"domain": [0, 100], "nice": false}, "axis": {"values": [0, 25, 50, 75, 100], "title": "Lesion Miss Rate Rate [%]"}},
        "y2": {"field": "hi"}}},
      {"data": {"name": "lmH_mesa"}, "mark": {"type": "line", "color": "#111111", "strokeWidth": 2, "interpolate": "monotone"}, "encoding": {
        "x": {"field": "fov", "type": "quantitative", "axis": {"title": "Field of View [mm]"}},
        "y": {"field": "rate", "type": "quantitative", "axis": {"title": "Lesion Miss Rate Rate [%]"}}}},
      {"data": {"name": "lmH_val"}, "mark": {"type": "line", "color": "#a51d36", "strokeWidth": 2, "interpolate": "monotone"}, "encoding": {
        "x": {"field": "fov", "type": "quantitative", "axis": {"title": "Field of View [mm]"}},
        "y": {"field": "rate", "type": "quantitative", "axis": {"title": "Lesion Miss Rate Rate [%]"}}}},
      {"data": {"values": [{}]}, "mark": {"type": "text", "text": "MESA: 1.91%", "fontSize": 18, "color": "#6e6e6e"}, "encoding": {"x": {"datum": 183}, "y": {"datum": 57}}},
      {"data": {"values": [{}]}, "mark": {"type": "text", "text": "(0.81%-3.25%)", "fontSize": 18, "color": "#6e6e6e"}, "encoding": {"x": {"datum": 183}, "y": {"datum": 48.4}}},
      {"data": {"values": [{}]}, "mark": {"type": "text", "text": "Val: 0.31%", "fontSize": 18, "color": "#a51d36"}, "encoding": {"x": {"datum": 183}, "y": {"datum": 38.6}}},
      {"data": {"values": [{}]}, "mark": {"type": "rule", "color": "#707070", "strokeWidth": 1.3, "strokeDash": [4, 3]}, "encoding": {"x": {"datum": 168}, "y": {"datum": 34}, "y2": {"datum": 7}}},
      {"data": {"values": [{}]}, "mark": {"type": "point", "shape": "M0,1L-0.55,-1L0,-0.55L0.55,-1Z", "filled": true, "color": "#707070", "opacity": 1, "size": 100}, "encoding": {"x": {"datum": 168}, "y": {"datum": 6.3}}},
      {"data": {"values": [{}]}, "mark": {"type": "rule", "color": "#111111", "strokeWidth": 2}, "encoding": {"x": {"datum": 168}, "y": {"datum": 0.81}, "y2": {"datum": 3.25}}},
      {"data": {"values": [{}]}, "mark": {"type": "point", "filled": true, "color": "#111111", "opacity": 1, "size": 40}, "encoding": {"x": {"datum": 168}, "y": {"datum": 1.91}}},
      {"data": {"values": [{}]}, "mark": {"type": "point", "filled": true, "color": "#a51d36", "opacity": 1, "size": 40}, "encoding": {"x": {"datum": 168}, "y": {"datum": 0.31}}}
    ]
  }
]
}
